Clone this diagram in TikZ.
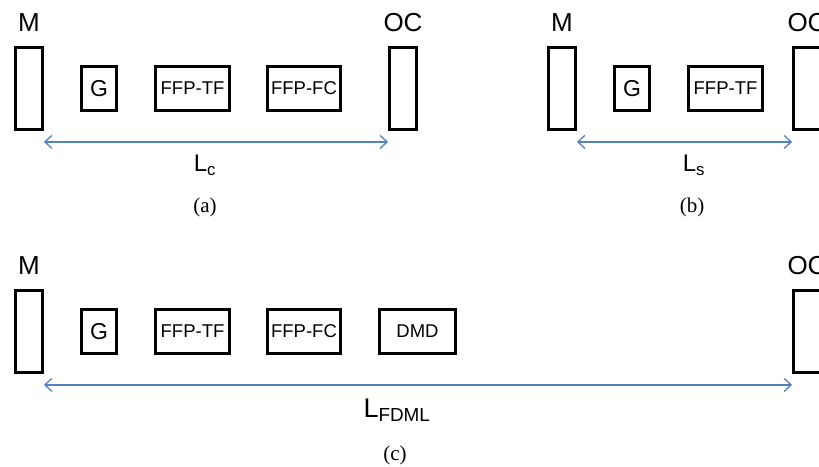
\documentclass[tikz,border=0pt]{standalone}
\usepackage{fontspec}
\setmainfont{Liberation Sans}
\newfontfamily\capfont{Liberation Serif}
\usepackage{xcolor}
\usetikzlibrary{shapes,arrows,arrows.meta,positioning,calc}
\definecolor{lenblue}{RGB}{84,130,190}

\begin{document}
\begin{tikzpicture}[x=1pt,y=-1pt,
  mirror/.style={draw, line width=2.8pt, minimum width=27pt, minimum height=82pt, inner sep=0pt},
  elem/.style={draw, line width=2.8pt, minimum height=44.2pt, inner sep=0pt, font=\fontsize{18.5}{20}\selectfont},
  gbox/.style={elem, minimum width=35.2pt, font=\fontsize{23}{24}\selectfont},
  mlabel/.style={font=\fontsize{26}{28}\selectfont, inner sep=0pt},
  lenarrow/.style={lenblue, line width=1.3pt, {Straight Barb[length=7pt,width=13pt]}-{Straight Barb[length=7pt,width=13pt]}},
  lenlabel/.style={font=\fontsize{24}{26}\selectfont, inner sep=0pt},
  caption/.style={font=\capfont\fontsize{21}{23}\selectfont, inner sep=0pt}]
\useasboundingbox (0,0) rectangle (819,466);
\clip (0,0) rectangle (819,466);

% (a) cavity with G, FFP-TF and FFP-FC
\begin{scope}[shift={(0,0)}]
\node[mirror] (Ma) at (29,88.5) {};
\node[mlabel, above=14pt of Ma] (MaL) {M};
\node[gbox] (Ga) at (99,88.5) {G};
\node[elem, minimum width=74.2pt] (TFa) at (192.5,88.5) {FFP-TF};
\node[elem, minimum width=73.6pt] (FCa) at (304,88.5) {FFP-FC};
\node[mirror] (OCa) at (403,88.5) {};
\node[mlabel, above=14pt of OCa] (OCaL) {OC};
\draw[lenarrow] ([yshift=-11pt]Ma.south east) -- ([yshift=-11pt]OCa.south west);
\node[lenlabel] (Lc) at (205,165) {L\textsubscript{c}};
\node[caption] (capa) at (205,207) {(a)};
\end{scope}

% (b) shorter cavity, G and FFP-TF only
\begin{scope}[shift={(533,0)}]
\node[mirror] (Mb) at (29,88.5) {};
\node[mlabel, above=14pt of Mb] (MbL) {M};
\node[gbox] (Gb) at (99,88.5) {G};
\node[elem, minimum width=74.2pt] (TFb) at (192.5,88.5) {FFP-TF};
\node[mirror] (OCb) at (274,88.5) {};
\node[mlabel, above=14pt of OCb] (OCbL) {OC};
\draw[lenarrow] ([yshift=-11pt]Mb.south east) -- ([yshift=-11pt]OCb.south west);
\node[lenlabel] (Ls) at (161,165) {L\textsubscript{s}};
\node[caption] (capb) at (159,207) {(b)};
\end{scope}

% (c) FDML cavity with DMD
\begin{scope}[shift={(0,243)}]
\node[mirror] (Mc) at (29,88.5) {};
\node[mlabel, above=14pt of Mc] (McL) {M};
\node[gbox] (Gc) at (99,88.5) {G};
\node[elem, minimum width=74.2pt] (TFc) at (192.5,88.5) {FFP-TF};
\node[elem, minimum width=73.6pt] (FCc) at (304,88.5) {FFP-FC};
\node[elem, minimum width=76.2pt] (DMD) at (417.5,88.5) {DMD};
\node[mirror] (OCc) at (807,88.5) {};
\node[mlabel, above=14pt of OCc] (OCcL) {OC};
\draw[lenarrow] ([yshift=-11pt]Mc.south east) -- ([yshift=-11pt]OCc.south west);
\node[lenlabel, font=\fontsize{27}{29}\selectfont] (Lfdml) at (397,167) {L\textsubscript{FDML}};
\node[caption] (capc) at (395,212) {(c)};
\end{scope}
\end{tikzpicture}
\end{document}
